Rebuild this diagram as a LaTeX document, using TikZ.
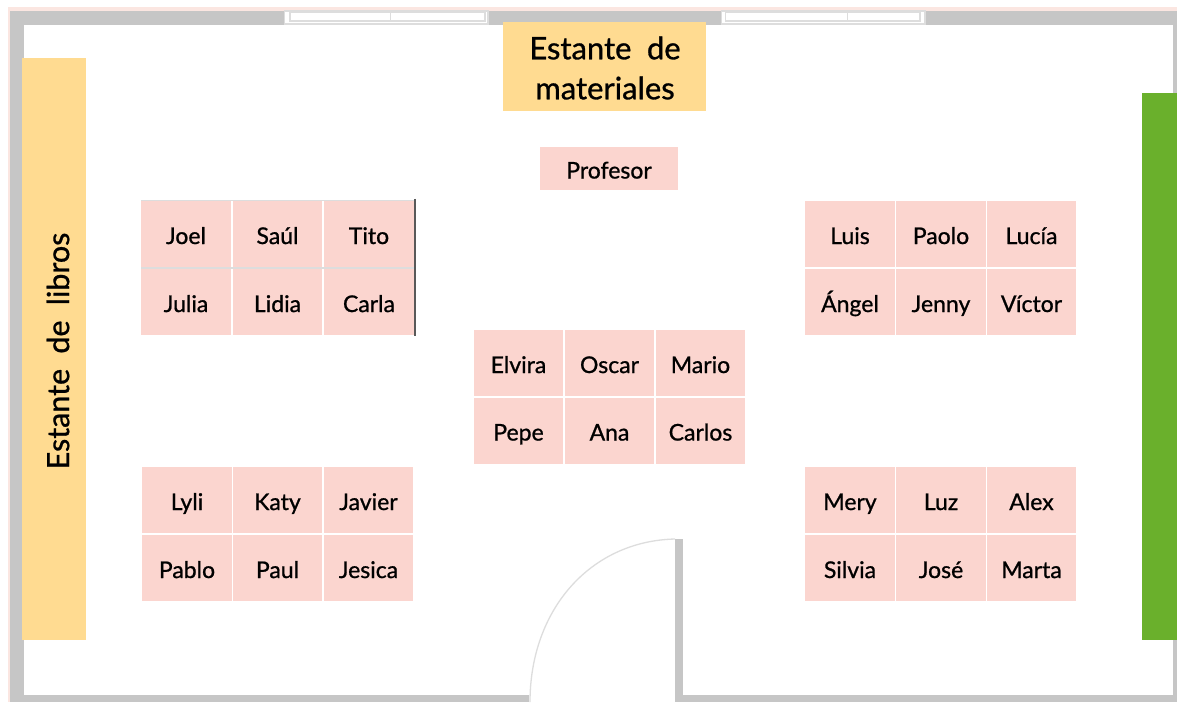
\documentclass[tikz,border=0pt]{standalone}
\usepackage{fontspec}
\setmainfont{Lato}[FakeBold=0.9]
\definecolor{wallc}{HTML}{C6C6C6}
\definecolor{pinkc}{HTML}{FBD5CF}
\definecolor{edgec}{HTML}{FBE6E1}
\definecolor{yellowc}{HTML}{FFDB91}
\definecolor{greenc}{HTML}{6AB02C}
\definecolor{framec}{HTML}{DDDDDD}
\newcommand\wsp{\hspace{0.5em}}
\tikzset{
  wall/.style={fill=wallc,draw=none},
  cellbox/.style={fill=pinkc,draw=none,anchor=center,inner sep=0pt,minimum width=#1,minimum height=66pt,text height=20pt,text depth=-1pt,font=\fontsize{23}{26}\selectfont,text=black},
  cellbox/.default=89.5pt,
  shelf/.style={fill=yellowc,draw=none,inner sep=0pt},
  shelftext/.style={inner sep=0pt,text=black,align=center,font=\fontsize{31}{40}\selectfont},
  winbox/.style={draw=framec,fill=white,line width=1.2pt},
}
\begin{document}
\begin{tikzpicture}[x=1pt,y=-1pt]
\useasboundingbox (0,0) rectangle (1177,702);
\fill[white] (0,0) rectangle (1177,702);
% outer pink hairline
\fill[edgec] (8,7) rectangle (1177,11);
\fill[edgec] (8,7) rectangle (10,702);
% walls
\fill[wall] (10,11) rectangle (1177,25);
\fill[wall] (10,11) rectangle (24,702);
\fill[wall] (1173,11) rectangle (1177,702);
\fill[wall] (10,695) rectangle (529,702);
\fill[wall] (675,695) rectangle (1177,702);
\fill[wall] (675,539) rectangle (683,702);
% door
\draw[framec,line width=1.3pt] (530,702) .. controls (530,610) and (590,541) .. (675,539);
% windows
\draw[winbox] (284.5,11) rectangle (488,24);
\draw[winbox] (290,12.5) rectangle (485,21);
\draw[framec,line width=1pt] (390.5,12.5) -- (390.5,21);
\draw[winbox] (721.5,11) rectangle (925,24);
\draw[winbox] (725.5,12.5) rectangle (920,21);
\draw[framec,line width=1pt] (847,12.5) -- (847,21);
% furniture
\node[shelf,minimum width=203pt,minimum height=89pt] (materiales) at (604.5,66.5) {};
\node[shelftext] (materialeslabel) at (605,68) {Estante\wsp de\\materiales};
\node[shelf,minimum width=64pt,minimum height=582pt] (libros) at (54,349) {};
\node[shelftext,font=\fontsize{30.5}{34}\selectfont,rotate=90] (libroslabel) at (58,351) {Estante\wsp de\wsp libros};
\fill[greenc] (1142,93) rectangle (1177,640);
\node[cellbox=138pt,minimum height=43pt] (profesor) at (609,168.5) {Profesor};
% top-left block
\node[cellbox] (joel) at (186,234) {Joel};
\node[cellbox] (saul) at (277.5,234) {Saúl};
\node[cellbox] (tito) at (369,234) {Tito};
\node[cellbox] (julia) at (186,302) {Julia};
\node[cellbox] (lidia) at (277.5,302) {Lidia};
\node[cellbox] (carla) at (369,302) {Carla};
\draw[framec,line width=1pt] (joel.north west) -- (tito.north east);
\draw[framec,line width=1.4pt] ([yshift=1pt]julia.north west) -- ([yshift=1pt]carla.north east);
\draw[black!65,line width=1.2pt] ([xshift=1pt,yshift=2pt]tito.north east) -- ([xshift=1pt,yshift=-1pt]carla.south east);
% top-right block
\node[cellbox] (luis) at (850,234) {Luis};
\node[cellbox] (paolo) at (941,234) {Paolo};
\node[cellbox] (lucia) at (1031.5,234) {Lucía};
\node[cellbox] (angel) at (850,302) {Ángel};
\node[cellbox] (jenny) at (941,302) {Jenny};
\node[cellbox] (victor) at (1031.5,302) {Víctor};
% centre block
\node[cellbox] (elvira) at (518.5,363) {Elvira};
\node[cellbox] (oscar) at (609.5,363) {Oscar};
\node[cellbox] (mario) at (700.5,363) {Mario};
\node[cellbox] (pepe) at (518.5,430.5) {Pepe};
\node[cellbox] (ana) at (609.5,430.5) {Ana};
\node[cellbox] (carlos) at (700.5,430.5) {Carlos};
% bottom-left block
\node[cellbox] (lyli) at (187,500) {Lyli};
\node[cellbox] (katy) at (277.5,500) {Katy};
\node[cellbox] (javier) at (368.5,500) {Javier};
\node[cellbox] (pablo) at (187,568) {Pablo};
\node[cellbox] (paul) at (277.5,568) {Paul};
\node[cellbox] (jesica) at (368.5,568) {Jesica};
% bottom-right block
\node[cellbox] (mery) at (850,500) {Mery};
\node[cellbox] (luz) at (941,500) {Luz};
\node[cellbox] (alex) at (1031.5,500) {Alex};
\node[cellbox] (silvia) at (850,568) {Silvia};
\node[cellbox] (jose) at (941,568) {José};
\node[cellbox] (marta) at (1031.5,568) {Marta};
\end{tikzpicture}
\end{document}
